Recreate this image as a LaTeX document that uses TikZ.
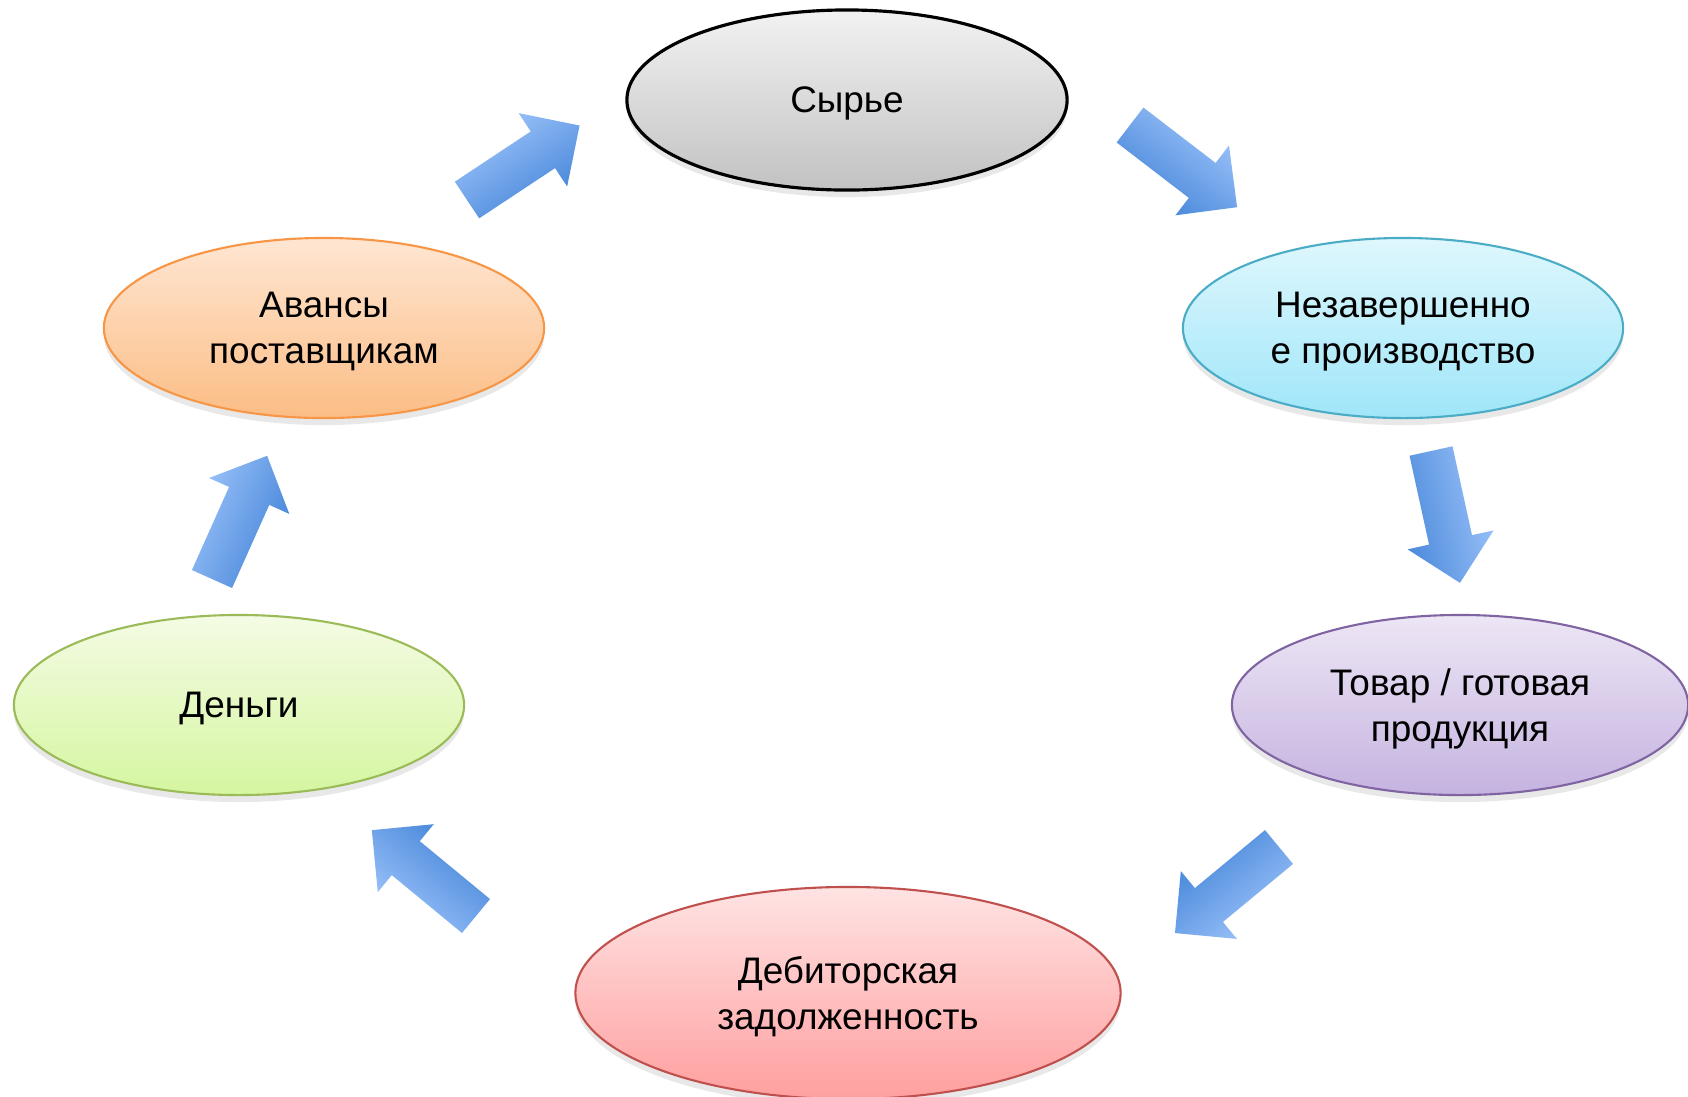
\documentclass[tikz,border=0pt]{standalone}
\usepackage{fontspec}
\setmainfont{Liberation Sans}
\usetikzlibrary{shapes.geometric,shadows}

\definecolor{syrtop}{HTML}{F2F2F2}
\definecolor{syrbot}{HTML}{C2C2C2}
\definecolor{neztop}{HTML}{DFF7FD}
\definecolor{nezbot}{HTML}{9FE6F9}
\definecolor{nezline}{HTML}{4BACC6}
\definecolor{tovtop}{HTML}{EDE6F5}
\definecolor{tovbot}{HTML}{C5B3E0}
\definecolor{tovline}{HTML}{8064A2}
\definecolor{debtop}{HTML}{FFE3E3}
\definecolor{debbot}{HTML}{FF9F9F}
\definecolor{debline}{HTML}{C0504D}
\definecolor{dentop}{HTML}{F4FBE4}
\definecolor{denbot}{HTML}{D5F6A0}
\definecolor{denline}{HTML}{9BBB59}
\definecolor{avatop}{HTML}{FFE6D2}
\definecolor{avabot}{HTML}{FBBD85}
\definecolor{avaline}{HTML}{F79646}
\definecolor{flowlight}{HTML}{95BEF7}
\definecolor{flowdark}{HTML}{4C8ADB}

\begin{document}
\begin{tikzpicture}[x=0.01cm,y=0.01cm,
    oval/.style={ellipse,inner sep=0pt,align=center,line width=0.6pt,
      minimum width=4.4cm,minimum height=1.8cm,text depth=0pt,
      font=\fontsize{10.5}{13.1}\selectfont,
      drop shadow={shadow xshift=0pt,shadow yshift=-2pt,opacity=0.18}},
    flow/.style={top color=flowlight,bottom color=flowdark}]
        \useasboundingbox (0,0) rectangle (1688,-1096) ;
        % the six stages
        \node[oval,draw=black,line width=0.9pt,top color=syrtop,bottom color=syrbot]
        (syr) at (847,-100) {Сырье} ;
        \node[oval,draw=nezline,top color=neztop,bottom color=nezbot]
        (nez) at (1403,-328) {Незавершенно\\е производство} ;
        \node[oval,draw=tovline,top color=tovtop,bottom color=tovbot,minimum width=4.56cm]
        (tov) at (1460,-705) {Товар / готовая\\продукция} ;
        \node[oval,draw=debline,top color=debtop,bottom color=debbot,
        minimum width=5.45cm,minimum height=2.12cm]
        (deb) at (848,-993) {Дебиторская\\задолженность} ;
        \node[oval,draw=denline,top color=dentop,bottom color=denbot,minimum width=4.5cm]
        (den) at (239,-705) {Деньги} ;
        \node[oval,draw=avaline,top color=avatop,bottom color=avabot]
        (ava) at (324,-328) {Авансы\\поставщикам} ;
        % block arrows: tail point / angle
        \foreach \x/\y/\a in {467/-200/33.5,1130/-125/-37.5,1431/-451/-77.6,
          1279/-847/-140.4,476/-916/140.5,212/-579/65.9}
        {
        \begin{scope}[transform canvas={shift={(\x,\y)},rotate=\a}]
        \shade[flow] (0,-22)--(91,-22)--(91,-44)--(135,0)--(91,44)--(91,22)--(0,22)--cycle ;
        \end{scope}
        }
      \end{tikzpicture}
\end{document}
